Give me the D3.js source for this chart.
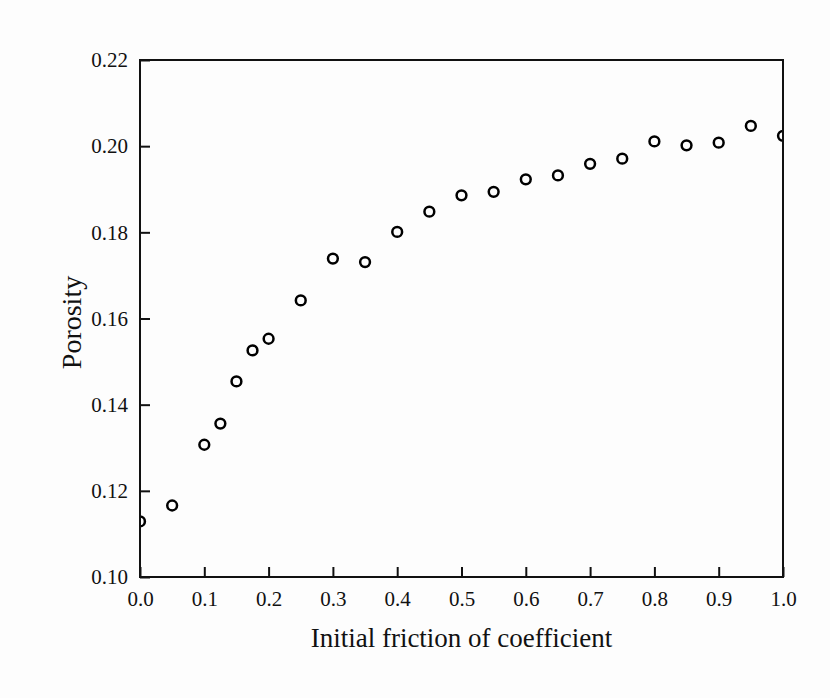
<!DOCTYPE html>
<html>
<head>
  <meta charset="utf-8">
  <title>Porosity vs friction</title>
  <style type="text/css">
    body {
      margin: 0;
      background: #fdfdfd;
    }
    svg text {
      font-family: "Liberation Serif", "Times New Roman", serif;
      fill: #111;
    }
  </style>
  <script src="https://d3js.org/d3.v7.min.js"></script>
</head>
<body>
  <div id="chart"></div>
  <script>
    // friction coefficient vs porosity
    var friction = [0, 0.05, 0.1, 0.125, 0.15, 0.175, 0.2, 0.25, 0.3, 0.35, 0.4, 0.45,
      0.5, 0.55, 0.6, 0.65, 0.7, 0.75, 0.8, 0.85, 0.9, 0.95, 1.0];
    var porosity = [0.1129, 0.1166, 0.1307, 0.1356, 0.1454, 0.1526, 0.1553, 0.1642,
      0.1739, 0.1731, 0.1801, 0.1848, 0.1886, 0.1894, 0.1923, 0.1932, 0.1959,
      0.1971, 0.2011, 0.2002, 0.2008, 0.2047, 0.2024];
    var xTicks = [0, 0.1, 0.2, 0.3, 0.4, 0.5, 0.6, 0.7, 0.8, 0.9, 1.0];
    var yTicks = [0.10, 0.12, 0.14, 0.16, 0.18, 0.20, 0.22];

    var width = 830, height = 698;
    var margin = {top: 60, right: 47, bottom: 121, left: 140};
    var w = width - margin.left - margin.right;
    var h = height - margin.top - margin.bottom;

    var svg = d3.select('#chart').append('svg')
      .attr('width', width)
      .attr('height', height);

    var g = svg.append('g')
      .attr('transform', 'translate(' + margin.left + ',' + margin.top + ')');

    var x = d3.scaleLinear().domain([0, 1]).range([0, w]);
    var y = d3.scaleLinear().domain([0.10, 0.22]).range([h, 0]);

    g.append('clipPath').attr('id', 'plot-clip')
      .append('rect').attr('width', w).attr('height', h);

    // points first, frame drawn over them
    g.append('g').attr('clip-path', 'url(#plot-clip)')
      .selectAll('circle')
      .data(friction)
      .enter()
      .append('circle')
      .attr('cx', function (d) { return x(d); })
      .attr('cy', function (d, i) { return y(porosity[i]); })
      .attr('r', 4.9)
      .style('fill', 'none')
      .style('stroke', '#000')
      .style('stroke-width', 2.5);

    var xAxis = g.append('g')
      .attr('transform', 'translate(0,' + h + ')')
      .call(d3.axisBottom(x).tickValues(xTicks).tickSize(-10).tickPadding(14)
        .tickFormat(d3.format('.1f')));
    var yAxis = g.append('g')
      .call(d3.axisLeft(y).tickValues(yTicks).tickSize(-10).tickPadding(12)
        .tickFormat(d3.format('.2f')));

    [xAxis, yAxis].forEach(function (ax) {
      ax.select('.domain').remove();
      ax.selectAll('line').style('stroke', '#111').style('stroke-width', 2);
      ax.selectAll('text').style('font-size', '21px')
        .style('font-family', '"Liberation Serif", serif').style('fill', '#111');
    });
    xAxis.selectAll('text').attr('dy', '0.7em');

    g.append('rect')
      .attr('width', w)
      .attr('height', h)
      .style('fill', 'none')
      .style('stroke', '#111')
      .style('stroke-width', 2);

    g.append('text')
      .attr('x', w / 2)
      .attr('y', h + 70)
      .attr('text-anchor', 'middle')
      .style('font-size', '27px')
      .text('Initial friction of coefficient');

    g.append('text')
      .attr('transform', 'translate(' + (-59) + ',' + (h / 2 + 4) + ') rotate(-90)')
      .attr('text-anchor', 'middle')
      .style('font-size', '28px')
      .text('Porosity');
  </script>
</body>
</html>
